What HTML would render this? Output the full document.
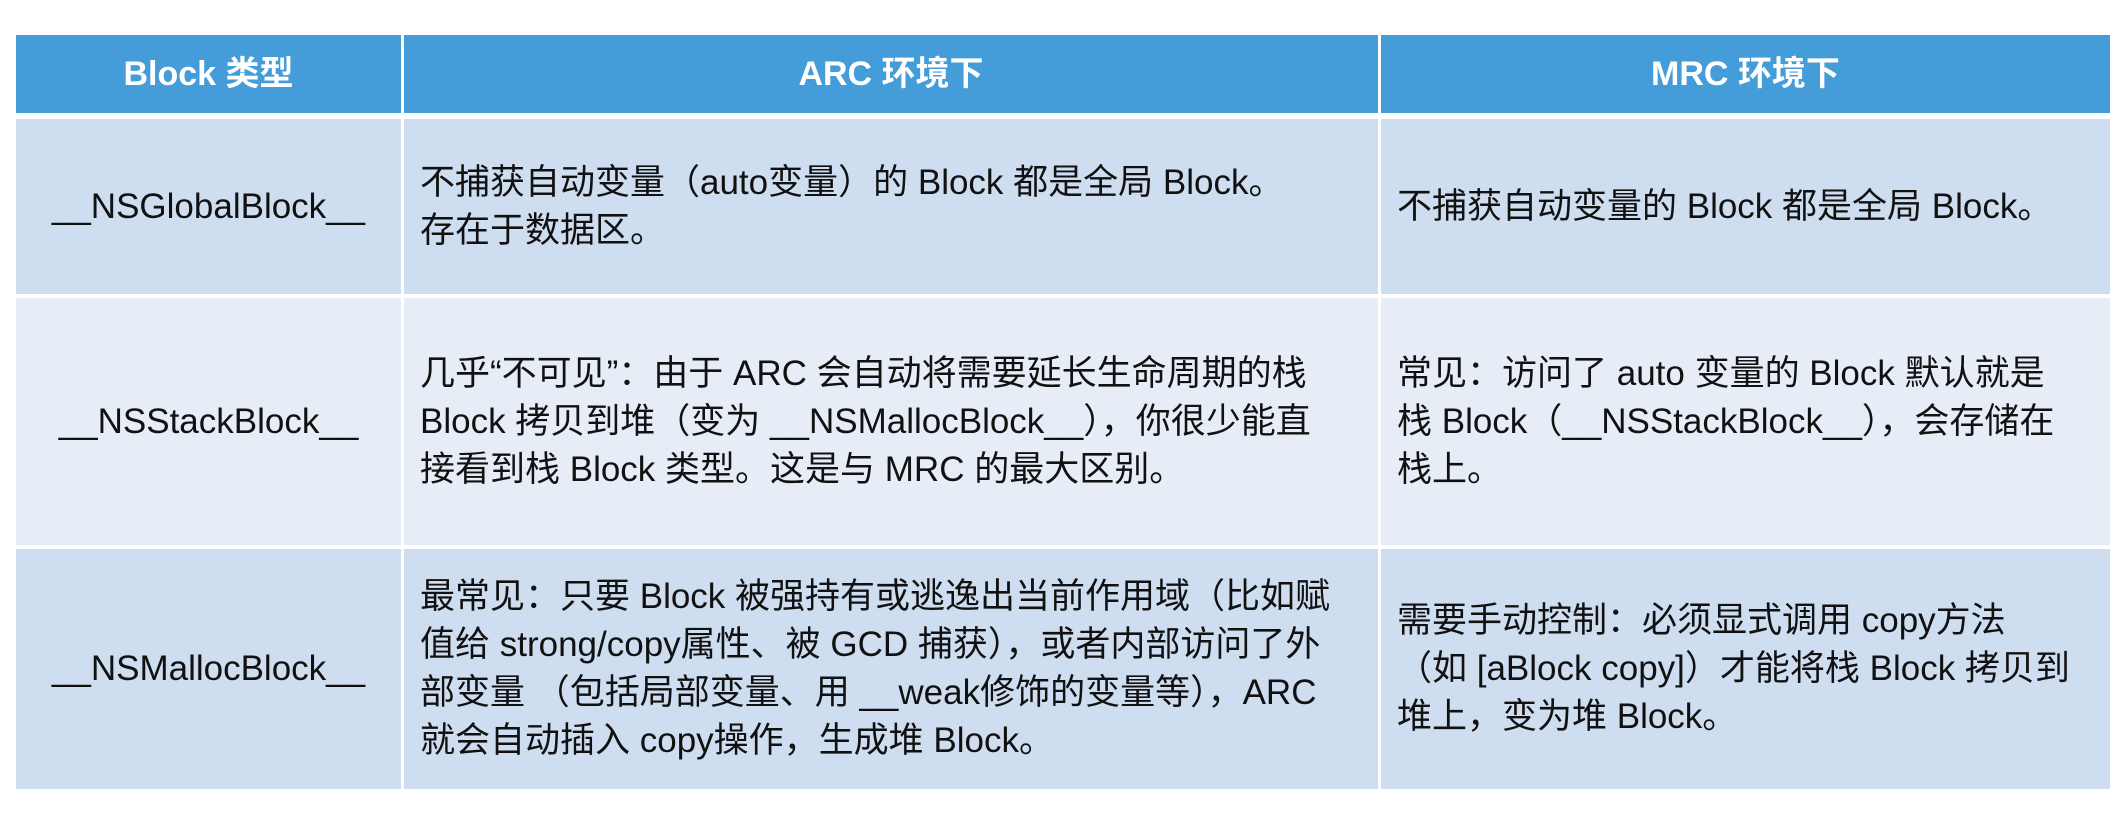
<!DOCTYPE html>
<html><head><meta charset="utf-8"><style>
body{margin:0;width:2126px;height:820px;background:#fff;position:relative;overflow:hidden;font-family:"Liberation Sans","Noto Sans CJK SC",sans-serif;}
.c{position:absolute;display:flex;align-items:center;box-sizing:border-box;font-size:35px;line-height:48px;color:#111;white-space:nowrap;}
.h{background:#449cd9;color:#fff;font-weight:bold;justify-content:center;font-size:34px;}
.a{background:#cfddf0;}
.b{background:#e6edf7;}
.ctr{justify-content:center;}
.t{padding-left:16px;}
</style></head><body>
<div class="c h" style="left:16px;top:35px;width:385px;height:78px">Block 类型</div>
<div class="c h" style="left:404px;top:35px;width:974px;height:78px">ARC 环境下</div>
<div class="c h" style="left:1381px;top:35px;width:729px;height:78px">MRC 环境下</div>

<div class="c a ctr" style="left:16px;top:119px;width:385px;height:175px">__NSGlobalBlock__</div>
<div class="c a t" style="left:404px;top:119px;width:974px;height:175px"><div>不捕获自动变量（auto变量）的 Block 都是全局 Block。<br>存在于数据区。</div></div>
<div class="c a t" style="left:1381px;top:119px;width:729px;height:175px"><div>不捕获自动变量的 Block 都是全局 Block。</div></div>

<div class="c b ctr" style="left:16px;top:298px;width:385px;height:247px">__NSStackBlock__</div>
<div class="c b t" style="left:404px;top:298px;width:974px;height:247px"><div>几乎“不可见”：由于 ARC 会自动将需要延长生命周期的栈<br>Block 拷贝到堆（变为 __NSMallocBlock__），你很少能直<br>接看到栈 Block 类型。这是与 MRC 的最大区别。</div></div>
<div class="c b t" style="left:1381px;top:298px;width:729px;height:247px"><div>常见：访问了 auto 变量的 Block 默认就是<br>栈 Block（__NSStackBlock__），会存储在<br>栈上。</div></div>

<div class="c a ctr" style="left:16px;top:549px;width:385px;height:240px">__NSMallocBlock__</div>
<div class="c a t" style="left:404px;top:549px;width:974px;height:240px"><div>最常见：只要 Block 被强持有或逃逸出当前作用域（比如赋<br>值给 strong/copy属性、被 GCD 捕获），或者内部访问了外<br>部变量 （包括局部变量、用 __weak修饰的变量等），ARC<br>就会自动插入 copy操作，生成堆 Block。</div></div>
<div class="c a t" style="left:1381px;top:549px;width:729px;height:240px"><div>需要手动控制：必须显式调用 copy方法<br>（如 [aBlock copy]）才能将栈 Block 拷贝到<br>堆上，变为堆 Block。</div></div>
</body></html>
